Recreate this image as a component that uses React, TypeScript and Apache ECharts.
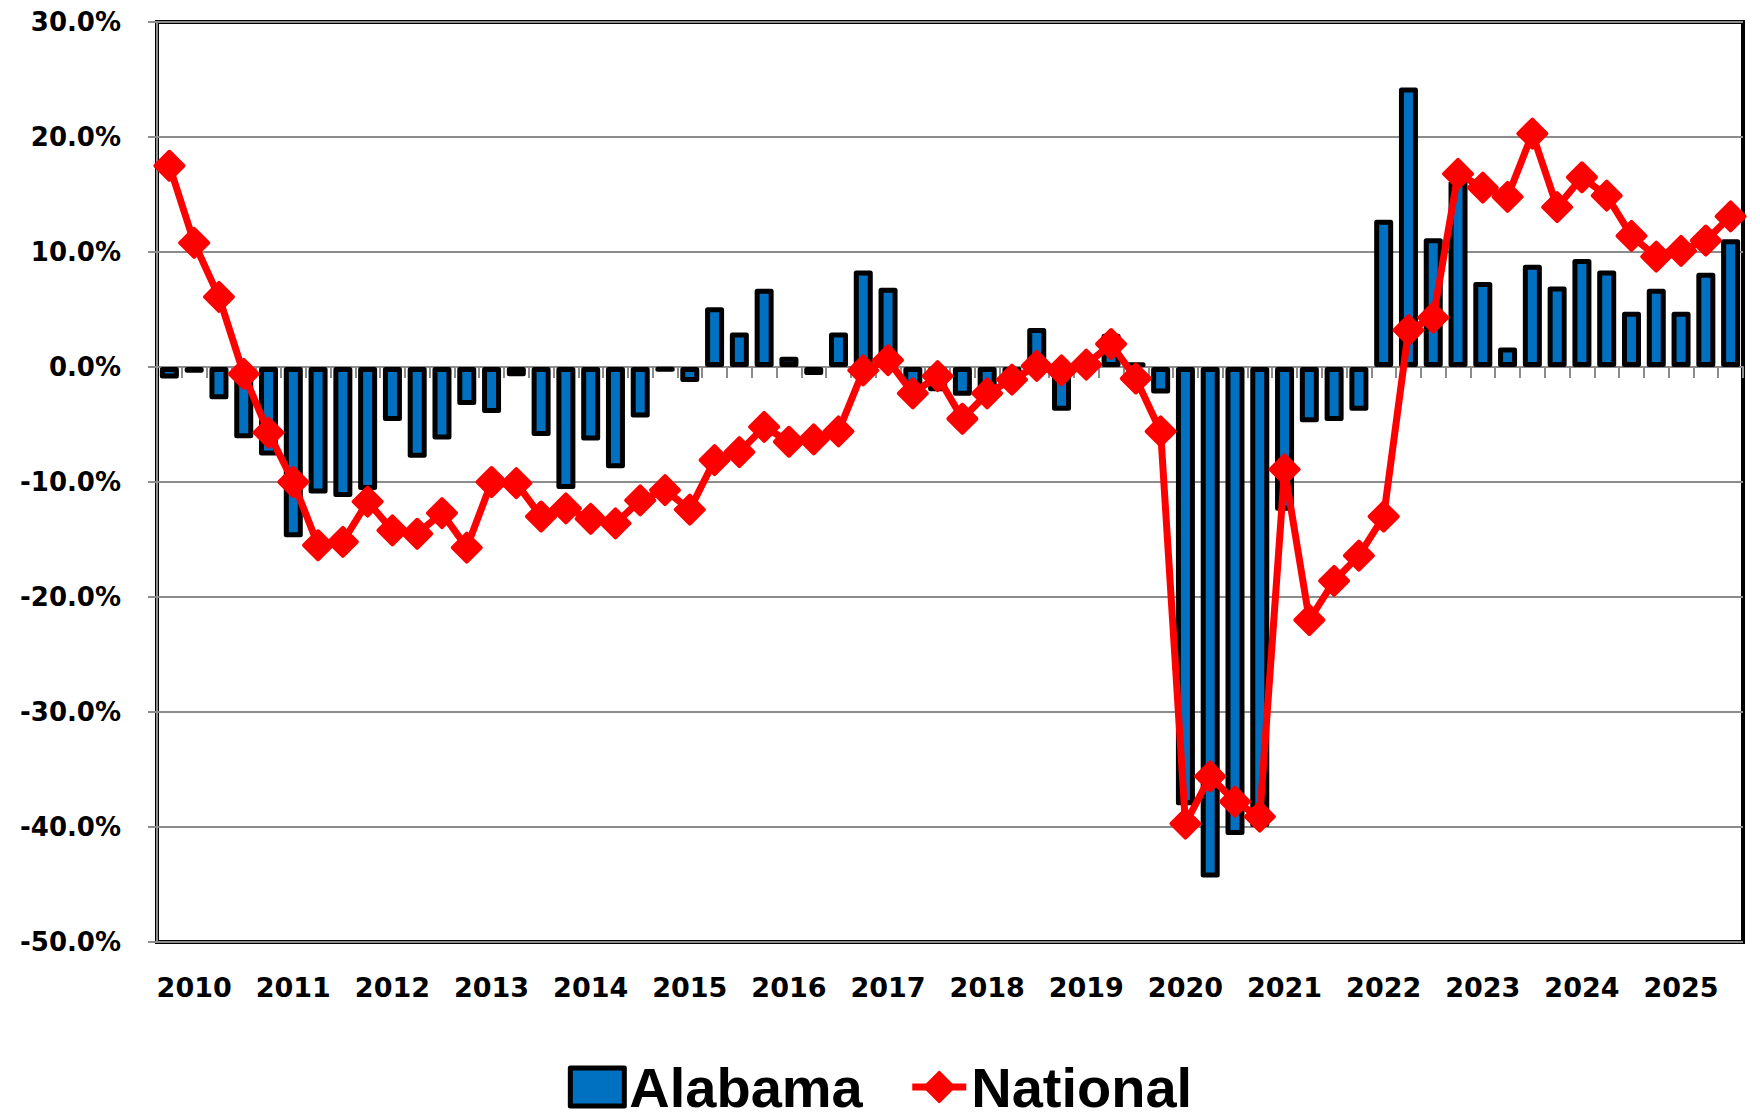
import React, { useEffect, useRef } from "react";
import * as echarts from "echarts";

const years = ["2010", "2011", "2012", "2013", "2014", "2015", "2016", "2017", "2018", "2019", "2020", "2021", "2022", "2023", "2024", "2025"];
const quarters = ["Q1", "Q2", "Q3", "Q4"];
const categories = years.flatMap((y) => quarters.map((q) => `${y} ${q}`));

const alabama = [
  -1.0, -0.5, -2.8, -6.2,
  -7.7, -14.8, -11.0, -11.3,
  -10.7, -4.7, -7.9, -6.3,
  -3.3, -4.0, -0.8, -6.0,
  -10.6, -6.4, -8.8, -4.4,
  -0.4, -1.3, 5.2, 3.0,
  6.8, 0.9, -0.7, 3.0,
  8.4, 6.9, -1.8, -2.1,
  -2.5, -2.2, -1.0, 3.4,
  -3.8, 0.4, 2.9, 0.4,
  -2.3, -38.1, -44.4, -40.7,
  -40.0, -12.5, -4.8, -4.7,
  -3.8, 12.8, 24.3, 11.2,
  16.2, 7.4, 1.7, 8.9,
  7.0, 9.4, 8.4, 4.8,
  6.8, 4.8, 8.2, 11.1,
];

const national = [
  17.5, 10.8, 6.1, -0.6,
  -5.7, -10.0, -15.5, -15.2,
  -11.7, -14.2, -14.5, -12.7,
  -15.7, -10.0, -10.1, -13.0,
  -12.3, -13.2, -13.6, -11.6,
  -10.7, -12.4, -8.1, -7.4,
  -5.2, -6.5, -6.3, -5.6,
  -0.3, 0.6, -2.3, -0.8,
  -4.5, -2.3, -1.1, 0.1,
  -0.3, 0.2, 2.0, -1.0,
  -5.6, -39.7, -35.6, -37.8,
  -39.1, -8.9, -22.0, -18.6,
  -16.4, -13.0, 3.2, 4.3,
  16.8, 15.6, 14.8, 20.3,
  13.9, 16.5, 14.9, 11.4,
  9.6, 10.1, 11.0, 13.1,
];

const seriesNames = ["Alabama", "National"];
const yMin = -50;
const yMax = 30;
const yStep = 10;

export default function App() {
  const ref = useRef<HTMLDivElement>(null);

  useEffect(() => {
    const chart = echarts.init(ref.current!, null, { renderer: "svg" });
    const gray = "#8c8c8c";
    chart.setOption({
      animation: false,
      backgroundColor: "#ffffff",
      grid: {
        left: 157,
        right: 17,
        top: 22,
        bottom: 175,
        show: true,
        borderColor: "#000000",
        borderWidth: 4,
        backgroundColor: "transparent",
      },
      legend: {
        data: [
          {
            name: seriesNames[0],
            icon: "rect",
            itemStyle: { color: "#0070C0", borderColor: "#000000", borderWidth: 5 },
          },
          {
            name: seriesNames[1],
            lineStyle: { color: "#FF0000", width: 7 },
          },
        ],
        top: 1054,
        left: "center",
        itemWidth: 54,
        itemHeight: 38,
        itemGap: 46,
        textStyle: {
          fontFamily: "Liberation Sans",
          fontWeight: "bold",
          fontSize: 56,
          lineHeight: 56,
          color: "#000000",
        },
      },
      xAxis: [
        {
          type: "category",
          data: categories,
          position: "bottom",
          axisLine: { show: true, onZero: true, lineStyle: { color: gray, width: 2 } },
          axisTick: { show: true, interval: 0, length: 11, lineStyle: { color: gray, width: 2 } },
          axisLabel: { show: false },
          splitLine: { show: false },
        },
        {
          type: "category",
          data: categories,
          position: "bottom",
          axisLine: { show: false, onZero: false },
          axisTick: { show: false },
          axisLabel: {
            show: true,
            interval: (index: number) => index % 4 === 1,
            formatter: (v: string) => v.slice(0, 4),
            margin: 32,
            fontFamily: "DejaVu Sans",
            fontWeight: "bold",
            fontSize: 27,
            color: "#000000",
          },
          splitLine: { show: false },
        },
      ],
      yAxis: {
        type: "value",
        min: yMin,
        max: yMax,
        interval: yStep,
        axisLine: { show: true, lineStyle: { color: gray, width: 2 } },
        axisTick: { show: true, length: 9, lineStyle: { color: gray, width: 2 } },
        splitLine: { show: true, lineStyle: { color: gray, width: 2 } },
        axisLabel: {
          formatter: (v: number) => v.toFixed(1) + "%",
          margin: 36,
          fontFamily: "DejaVu Sans",
          fontWeight: "bold",
          fontSize: 26,
          color: "#000000",
        },
      },
      series: [
        {
          name: seriesNames[0],
          type: "bar",
          xAxisIndex: 0,
          data: alabama,
          barWidth: 19,
          itemStyle: {
            color: "#0070C0",
            borderColor: "#000000",
            borderWidth: 5,
            borderJoin: "round",
          },
          z: 2,
        },
        {
          name: seriesNames[1],
          type: "line",
          xAxisIndex: 0,
          data: national,
          symbol: "diamond",
          symbolSize: 28,
          showSymbol: true,
          showAllSymbol: true,
          lineStyle: { color: "#FF0000", width: 7 },
          itemStyle: {
            color: "#FF0000",
            borderColor: "#FF0000",
            borderWidth: 4,
            borderJoin: "round",
          },
          z: 3,
        },
      ],
    });
    return () => chart.dispose();
  }, []);

  return (
    <div
      ref={ref}
      style={{ position: "absolute", left: 0, top: 0, width: 1760, height: 1117, background: "#fff" }}
    />
  );
}
